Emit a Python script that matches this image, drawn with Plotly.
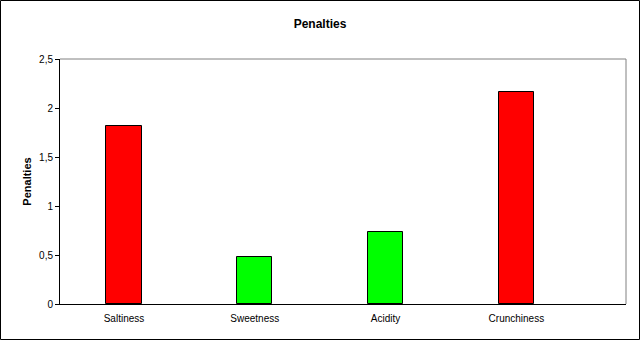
import plotly.graph_objects as go

categories = ["Saltiness", "Sweetness", "Acidity", "Crunchiness"]
penalties = [1.82, 0.476, 0.73, 2.164]
bar_colors = ["#FF0000", "#00FF00", "#00FF00", "#FF0000"]
ytick_vals = [0, 0.5, 1, 1.5, 2, 2.5]
ytick_text = ["0", "0,5", "1", "1,5", "2", "2,5"]

W, H = 641, 341
L, R, T, B = 60, 15, 59, 37
pw, ph = W - L - R, H - T - B

fig = go.Figure()
fig.add_trace(go.Bar(
    x=list(range(len(categories))), y=penalties,
    marker=dict(color=bar_colors, line=dict(color="black", width=1)),
    width=0.27,
))

fig.update_layout(
    width=W, height=H,
    margin=dict(l=L, r=R, t=T, b=B),
    paper_bgcolor="white", plot_bgcolor="white",
    showlegend=False,
    font=dict(family="Liberation Sans, Arial, sans-serif", size=10, color="black"),
    title=dict(text="<b>Penalties</b>", x=320 / W, xref="container",
               xanchor="center", y=1 - 24 / H, yanchor="middle",
               font=dict(size=12, family="Liberation Sans, Arial, sans-serif")),
    xaxis=dict(
        range=[-0.489, 3.838],
        tickmode="array", tickvals=list(range(len(categories))), ticktext=categories,
        showgrid=False, zeroline=False, showline=True, linecolor="black", linewidth=1,
        ticks="", ticklabelstandoff=5, tickfont=dict(size=10),
    ),
    yaxis=dict(
        range=[0, 2.5],
        tickmode="array", tickvals=ytick_vals, ticktext=ytick_text,
        showgrid=False, zeroline=False, showline=True, linecolor="black", linewidth=1,
        ticks="outside", ticklen=4, tickcolor="black", tickwidth=1,
        tickfont=dict(size=10),
        title=dict(text="<b>Penalties</b>", font=dict(size=11), standoff=5),
    ),
    bargap=0,
)

# gray top and right plot border
fig.add_shape(type="line", xref="paper", yref="paper", x0=0, x1=1, y0=1, y1=1,
              line=dict(color="#808080", width=1))
fig.add_shape(type="line", xref="paper", yref="paper", x0=1, x1=1, y0=0, y1=1,
              line=dict(color="#808080", width=1))
# outer chart frame
fig.add_shape(type="rect", xref="paper", yref="paper",
              x0=-(L - 0.5) / pw, x1=(W - L - 1.5) / pw,
              y0=-(B - 1.5) / ph, y1=1 + (T - 0.5) / ph,
              line=dict(color="black", width=1), fillcolor="rgba(0,0,0,0)", layer="above")

fig.write_html("out.html")
